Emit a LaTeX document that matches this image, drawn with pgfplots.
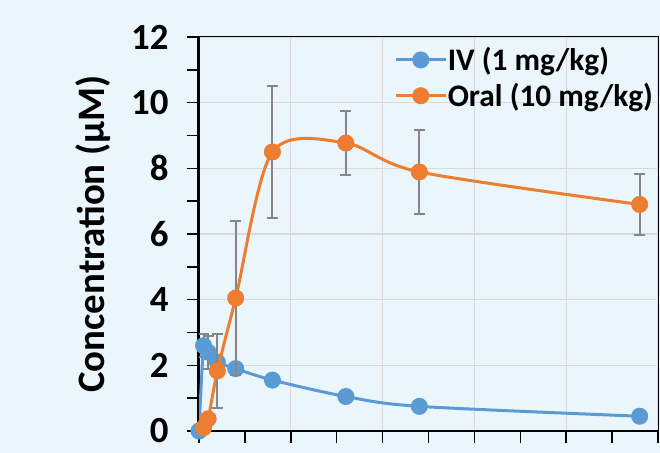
\documentclass[border=0pt]{standalone}
\usepackage{fontspec}
\setmainfont{Carlito}
\usepackage{pgfplots}
\pgfplotsset{compat=1.18}
\definecolor{bg}{HTML}{EBF5FC}
\definecolor{ivblue}{HTML}{5B9BD5}
\definecolor{oralorange}{HTML}{ED7D31}
\definecolor{gridc}{HTML}{D9D9D9}
\definecolor{errc}{HTML}{868686}

\begin{document}
\begin{tikzpicture}
\useasboundingbox (-199bp,-22bp) rectangle (461bp,431bp);
\fill[bg] (-199bp,-22bp) rectangle (461bp,431bp);
\begin{axis}[scale only axis, width=459bp, height=394bp,
 xmin=0, xmax=25, ymin=0, ymax=12,
 xtick={0,5,...,25}, minor xtick={2.5,7.5,...,22.5}, xticklabels={},
 ytick={0,2,...,12}, minor ytick={1,3,...,11},
 tick pos=left,
 xmajorgrids, ymajorgrids, grid style={gridc, line width=1.4bp},
 tick align=outside, major tick length=12bp, minor tick length=12bp,
 tick style={black, line width=1.5bp},
 axis line style={black, line width=1bp},
 /pgf/number format/assume math mode=true,
 yticklabel style={font=\fontsize{37}{37}\selectfont\bfseries, xshift=-15bp},
 every axis y label/.style={at={(axis description cs:0,0.5)}, xshift=-106bp,
   rotate=90, anchor=center, font=\fontsize{39}{39}\selectfont\bfseries},
 ylabel={Concentration (µM)},
 clip mode=individual,
 legend style={at={(axis description cs:0.425,0.975)}, anchor=north west,
   draw=none, fill=none, inner sep=0bp, row sep=10bp,
   font=\fontsize{31.5}{34}\selectfont\bfseries,
   nodes={inner sep=0.5bp}},
 legend cell align=left,
 legend image code/.code={\draw[mark repeat=2,mark phase=2]
   plot coordinates {(0bp,0bp) (25bp,0bp) (50bp,0bp)};},
 error bars/error bar style={errc, line width=2bp},
 error bars/error mark options={rotate=90, errc, mark size=5.5bp, line width=2bp},
]
\draw[black, line width=3bp] (rel axis cs:0,0) -- (rel axis cs:0,1);
\draw[black, line width=2.5bp] (rel axis cs:0,0) -- (rel axis cs:1,0);

\addplot[ivblue, line width=3bp, smooth, mark=*, mark size=7bp,
  mark options={fill=ivblue, draw=ivblue},
  error bars/.cd, y dir=both, y explicit]
 coordinates {(0,0) +- (0,0) (0.25,2.6) +- (0,0.35) (0.5,2.4) +- (0,0.5)
  (1,2.1) +- (0,0.1) (2,1.9) +- (0,0.1) (4,1.55) +- (0,0.1)
  (8,1.05) +- (0,0.08) (12,0.75) +- (0,0.06) (24,0.45) +- (0,0.05)};
\addlegendentry{IV (1 mg/kg)}

\addplot[oralorange, line width=3bp, smooth, mark=*, mark size=7bp,
  mark options={fill=oralorange, draw=oralorange},
  error bars/.cd, y dir=both, y explicit]
 coordinates {(0.25,0.1) +- (0,0.05) (0.5,0.37) +- (0,0.1) (1,1.83) +- (0,1.13)
  (2,4.05) +- (0,2.35) (4,8.5) +- (0,2.0) (8,8.77) +- (0,0.98)
  (12,7.89) +- (0,1.27) (24,6.9) +- (0,0.94)};
\addlegendentry{Oral (10 mg/kg)}
\end{axis}
\end{tikzpicture}
\end{document}
